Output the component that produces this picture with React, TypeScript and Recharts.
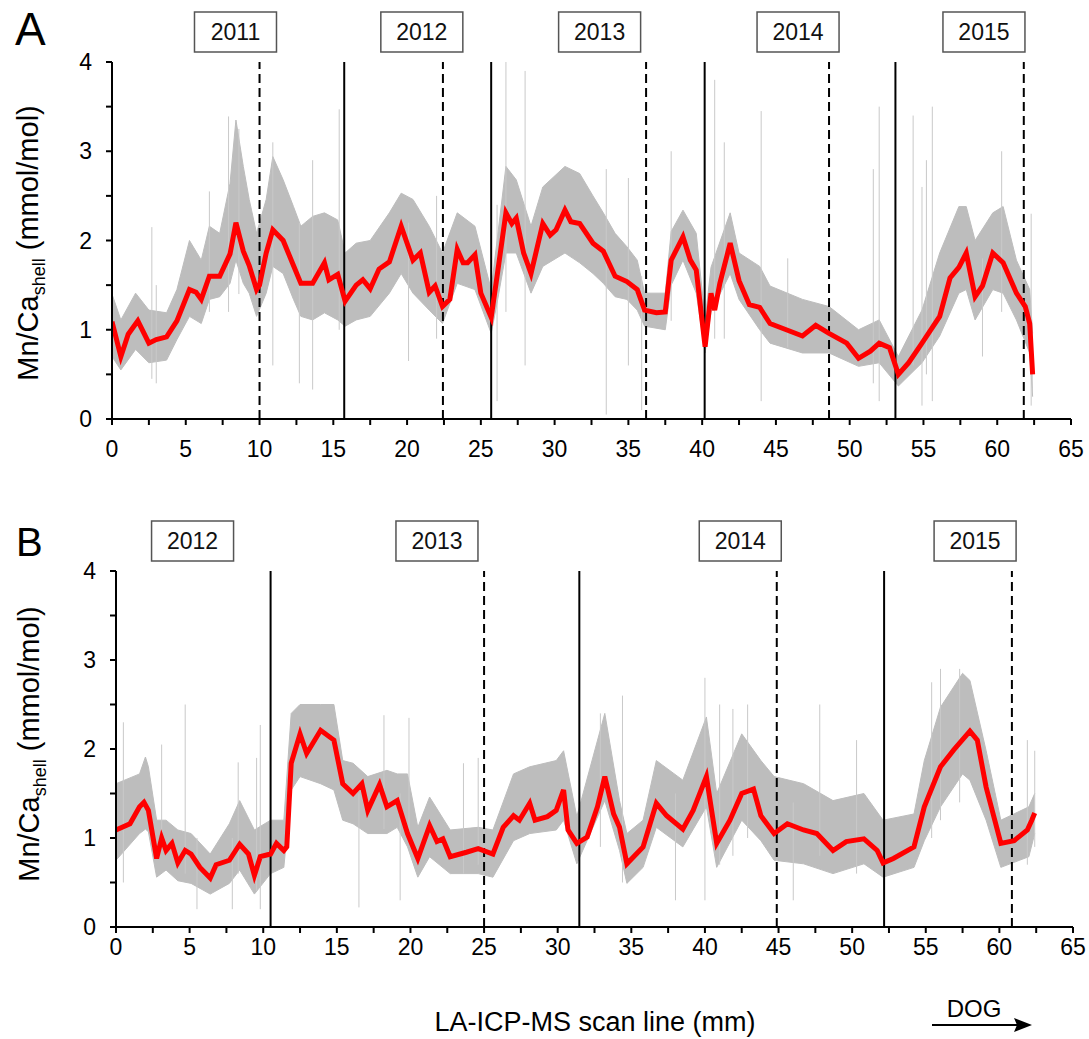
import React from "react";
import {
  Area,
  ComposedChart,
  Line,
  ReferenceDot,
  ReferenceLine,
  XAxis,
  YAxis,
} from "recharts";

const FONT = "'Liberation Sans', Arial, Helvetica, sans-serif";
const RED = "#ff0000";
const GRAY = "#bdbdbd";
const SPIKE = "#c9c9c9";

const X_TICKS = [0, 2.5, 5, 7.5, 10, 12.5, 15, 17.5, 20, 22.5, 25, 27.5, 30, 32.5, 35, 37.5, 40, 42.5, 45, 47.5, 50, 52.5, 55, 57.5, 60, 62.5, 65];
const Y_TICKS = [0, 0.5, 1, 1.5, 2, 2.5, 3, 3.5, 4];

// ---- panel A: smoothed Mn/Ca (red)
const A_RED_X = [0, 0.6, 1.1, 1.75, 2.5, 3.0, 3.7, 4.4, 5.25, 5.7, 6.05, 6.6, 7.3, 8.0, 8.4, 8.9, 9.3, 9.8, 10.0, 10.45, 10.9, 11.6, 12.3, 12.8, 13.6, 14.4, 14.7, 15.3, 15.8, 16.55, 17.0, 17.5, 18.1, 18.8, 19.6, 20.4, 20.9, 21.5, 21.9, 22.4, 22.9, 23.4, 23.8, 24.1, 24.6, 25.0, 25.7, 26.1, 26.7, 27.1, 27.4, 27.9, 28.4, 29.2, 29.7, 30.1, 30.7, 31.1, 31.7, 32.6, 33.3, 34.1, 34.9, 35.6, 36.1, 36.9, 37.5, 37.9, 38.7, 39.2, 39.6, 40.2, 40.6, 40.85, 41.2, 41.9, 42.5, 43.2, 43.9, 44.6, 45.7, 46.8, 47.7, 48.6, 49.8, 50.6, 51.4, 52.0, 52.7, 53.3, 54.0, 54.9, 56.1, 56.8, 57.4, 57.9, 58.5, 59.0, 59.7, 60.4, 61.3, 61.9, 62.2, 62.4];
const A_RED_Y = [1.09, 0.7, 0.95, 1.1, 0.85, 0.89, 0.92, 1.1, 1.45, 1.42, 1.34, 1.6, 1.6, 1.85, 2.2, 1.88, 1.72, 1.45, 1.5, 1.86, 2.12, 2.0, 1.72, 1.52, 1.52, 1.75, 1.56, 1.62, 1.32, 1.5, 1.56, 1.46, 1.68, 1.76, 2.16, 1.78, 1.86, 1.42, 1.49, 1.26, 1.34, 1.9, 1.75, 1.75, 1.84, 1.41, 1.14, 1.6, 2.31, 2.19, 2.25, 1.86, 1.63, 2.19, 2.06, 2.12, 2.34, 2.21, 2.19, 1.97, 1.88, 1.6, 1.54, 1.45, 1.22, 1.19, 1.2, 1.78, 2.04, 1.78, 1.67, 0.81, 1.41, 1.22, 1.52, 1.97, 1.55, 1.28, 1.25, 1.07, 1.0, 0.93, 1.05, 0.96, 0.85, 0.68, 0.76, 0.85, 0.8, 0.5, 0.63, 0.85, 1.15, 1.58, 1.7, 1.86, 1.37, 1.49, 1.86, 1.75, 1.41, 1.26, 1.07, 0.5];

// ---- panel A: raw data envelope (gray)
const A_BAND_X = [0, 0.6, 1.6, 2.5, 3.7, 4.4, 5.25, 6.05, 6.6, 7.3, 8.0, 8.4, 8.9, 9.3, 9.8, 10.45, 10.9, 11.6, 12.3, 12.8, 13.6, 14.4, 15.3, 15.8, 16.55, 17.5, 18.8, 19.6, 20.4, 21.5, 22.4, 23.4, 24.6, 25.7, 26.1, 26.7, 27.4, 28.4, 29.2, 30.7, 31.7, 32.6, 33.3, 34.1, 34.9, 35.6, 36.1, 37.5, 37.9, 38.7, 39.6, 40.2, 40.6, 41.9, 42.5, 43.9, 44.6, 46.8, 48.6, 50.6, 52.0, 53.3, 54.9, 56.1, 57.4, 57.9, 58.5, 59.7, 60.4, 61.3, 62.2, 62.4];
const A_BAND_LO = [0.7, 0.55, 0.78, 0.63, 0.66, 0.89, 1.15, 1.07, 1.34, 1.37, 1.52, 1.78, 1.52, 1.41, 1.15, 1.41, 1.71, 1.63, 1.34, 1.15, 1.11, 1.19, 1.11, 1.04, 1.11, 1.15, 1.41, 1.63, 1.41, 1.22, 1.07, 1.52, 1.45, 0.96, 1.3, 1.86, 1.86, 1.41, 1.71, 1.86, 1.75, 1.63, 1.52, 1.37, 1.34, 1.22, 1.04, 1.0, 1.5, 1.78, 1.41, 0.74, 1.2, 1.63, 1.34, 1.0, 0.85, 0.74, 0.74, 0.59, 0.63, 0.37, 0.63, 0.93, 1.41, 1.45, 1.11, 1.45, 1.41, 1.11, 0.74, 0.25];
const A_BAND_HI = [1.4, 1.11, 1.41, 1.22, 1.19, 1.45, 2.0, 1.78, 2.16, 2.08, 2.64, 3.35, 2.83, 2.46, 2.08, 2.46, 2.94, 2.68, 2.38, 2.16, 2.27, 2.31, 2.23, 1.86, 1.97, 2.0, 2.31, 2.53, 2.46, 2.16, 1.86, 2.31, 2.16, 1.45, 2.0, 2.83, 2.68, 2.16, 2.6, 2.83, 2.75, 2.5, 2.31, 2.08, 1.93, 1.78, 1.41, 1.41, 2.1, 2.34, 2.08, 1.11, 1.7, 2.31, 1.86, 1.71, 1.49, 1.34, 1.26, 1.0, 1.11, 0.7, 1.22, 1.86, 2.38, 2.38, 2.0, 2.31, 2.38, 1.78, 1.45, 0.96];

// ---- panel A: isolated spikes
const A_SPIKE_X = [2.7, 3.0, 6.6, 7.9, 8.6, 10.9, 12.7, 13.6, 15.4, 20.1, 22.0, 26.1, 26.7, 28.0, 33.5, 35.0, 35.9, 37.9, 40.85, 41.5, 44.0, 45.8, 51.6, 52.0, 54.3, 54.9, 55.2, 55.6, 59.0, 60.3, 62.3];
const A_SPIKE_LO = [0.45, 0.4, 1.2, 1.2, 1.4, 0.6, 0.4, 0.33, 1.0, 0.65, 0.9, 0.2, 1.2, 0.6, 0.05, 0.6, 0.1, 1.1, 0.9, 0.9, 0.2, 0.8, 0.4, 0.2, 0.6, 0.15, 0.5, 0.2, 0.7, 1.2, 0.15];
const A_SPIKE_HI = [2.15, 1.5, 2.55, 3.39, 3.25, 3.1, 2.2, 2.9, 3.47, 2.2, 2.5, 2.4, 4.0, 3.9, 2.8, 2.7, 1.6, 3.0, 3.8, 3.1, 3.45, 1.8, 2.8, 3.5, 3.4, 2.6, 2.9, 3.5, 1.8, 3.0, 2.3];

const A_SOLID = [15.74, 25.7, 40.17, 53.1];
const A_DASHED = [10.0, 22.43, 36.2, 48.6, 61.8];
const A_YEARS = ["2011", "2012", "2013", "2014", "2015"];
const A_YEAR_POS = [8.37, 21.0, 33.05, 46.5, 59.1];

// ---- panel B: smoothed Mn/Ca (red)
const B_RED_X = [0, 0.95, 1.6, 1.9, 2.2, 2.76, 3.1, 3.4, 3.8, 4.2, 4.7, 5.1, 5.7, 6.4, 6.8, 7.7, 8.4, 9.0, 9.4, 9.8, 10.5, 10.9, 11.4, 11.6, 11.9, 12.5, 12.95, 13.9, 14.8, 15.4, 16.1, 16.7, 17.1, 17.9, 18.4, 19.1, 19.8, 20.5, 21.3, 21.8, 22.2, 22.7, 23.8, 24.6, 25.6, 26.3, 27.0, 27.4, 28.1, 28.46, 29.3, 29.9, 30.4, 30.7, 31.3, 32.0, 32.7, 33.2, 33.8, 34.2, 34.7, 35.8, 36.7, 37.4, 38.5, 39.2, 40.1, 40.8, 41.7, 42.5, 43.3, 43.8, 44.7, 45.6, 46.7, 47.6, 48.7, 49.6, 50.8, 51.7, 52.1, 52.8, 54.2, 54.9, 56.0, 56.9, 58.0, 58.5, 59.1, 60.1, 61.0, 61.9, 62.2, 62.4];
const B_RED_Y = [1.09, 1.16, 1.35, 1.4, 1.31, 0.77, 1.0, 0.86, 0.94, 0.72, 0.86, 0.82, 0.67, 0.55, 0.7, 0.75, 0.93, 0.82, 0.58, 0.79, 0.82, 0.94, 0.86, 0.9, 1.84, 2.17, 1.95, 2.21, 2.1, 1.61, 1.5, 1.61, 1.31, 1.6, 1.35, 1.42, 1.05, 0.77, 1.14, 0.96, 0.99, 0.79, 0.84, 0.88, 0.82, 1.12, 1.25, 1.2, 1.39, 1.2, 1.24, 1.31, 1.54, 1.09, 0.94, 1.01, 1.35, 1.69, 1.27, 1.12, 0.71, 0.9, 1.39, 1.25, 1.1, 1.31, 1.69, 0.94, 1.2, 1.5, 1.55, 1.25, 1.05, 1.16, 1.09, 1.05, 0.86, 0.96, 0.99, 0.86, 0.72, 0.77, 0.9, 1.35, 1.8, 1.99, 2.2, 2.1, 1.57, 0.94, 0.97, 1.09, 1.2, 1.28];

// ---- panel B: raw data envelope (gray)
const B_BAND_X = [0, 1.6, 2.0, 2.2, 2.76, 3.4, 4.2, 5.1, 6.4, 7.7, 8.4, 9.4, 10.5, 11.4, 11.9, 12.5, 13.9, 14.8, 15.4, 16.1, 17.1, 18.4, 19.1, 19.8, 20.5, 21.3, 22.7, 24.6, 25.6, 27.0, 28.1, 29.9, 30.4, 31.3, 33.2, 34.2, 34.7, 35.8, 36.7, 38.5, 40.1, 40.8, 42.5, 43.8, 44.7, 46.7, 48.7, 50.8, 52.1, 54.2, 54.9, 56.0, 57.5, 58.0, 59.1, 60.1, 62.0, 62.4];
const B_BAND_LO = [0.75, 1.05, 1.1, 1.07, 0.56, 0.64, 0.52, 0.49, 0.37, 0.49, 0.64, 0.37, 0.6, 0.67, 1.54, 1.69, 1.61, 1.54, 1.2, 1.16, 1.05, 1.05, 1.12, 0.9, 0.56, 0.79, 0.6, 0.6, 0.56, 0.97, 1.05, 1.09, 1.2, 0.71, 1.42, 0.86, 0.49, 0.67, 1.12, 0.9, 1.35, 0.67, 1.2, 0.97, 0.75, 0.71, 0.6, 0.71, 0.56, 0.67, 0.97, 1.35, 1.72, 1.65, 1.2, 0.67, 0.79, 1.05];
const B_BAND_HI = [1.61, 1.72, 1.91, 1.8, 1.2, 1.2, 1.09, 1.05, 0.82, 1.16, 1.42, 1.09, 1.2, 1.2, 2.4, 2.5, 2.5, 2.5, 1.87, 1.84, 1.69, 1.76, 1.72, 1.72, 1.12, 1.46, 1.09, 1.12, 1.09, 1.72, 1.8, 1.87, 1.98, 1.24, 2.4, 1.42, 1.05, 1.2, 1.87, 1.65, 2.36, 1.5, 2.17, 1.87, 1.69, 1.61, 1.42, 1.5, 1.2, 1.27, 1.87, 2.47, 2.85, 2.77, 1.98, 1.2, 1.35, 1.5];

// ---- panel B: isolated spikes
const B_SPIKE_X = [0.5, 3.1, 4.7, 5.5, 7.9, 8.3, 9.55, 9.8, 16.5, 18.2, 19.3, 19.9, 23.6, 24.6, 32.9, 34.4, 38.0, 40.0, 41.0, 41.9, 42.9, 46.0, 47.8, 50.3, 55.4, 56.0, 57.3, 61.9, 62.4];
const B_SPIKE_LO = [0.5, 0.9, 0.6, 0.2, 0.2, 0.6, 0.4, 0.2, 0.22, 1.1, 0.3, 1.0, 0.6, 0.7, 0.9, 0.5, 0.3, 0.3, 0.7, 0.8, 1.0, 0.3, 0.8, 0.6, 1.0, 1.2, 1.4, 0.7, 0.9];
const B_SPIKE_HI = [2.3, 2.05, 2.5, 1.0, 1.0, 1.85, 1.9, 2.27, 1.5, 2.38, 1.5, 2.35, 1.84, 1.9, 2.4, 2.6, 1.5, 2.8, 2.5, 2.45, 2.5, 1.4, 2.5, 2.1, 2.75, 2.9, 2.9, 2.1, 1.98];

const B_SOLID = [10.5, 31.47, 52.17];
const B_DASHED = [25.0, 44.88, 60.85];
const B_YEARS = ["2012", "2013", "2014", "2015"];
const B_YEAR_POS = [5.2, 21.8, 42.4, 58.35];

const tick = { fontSize: 23, fill: "#000", fontFamily: FONT };

function YearBox({ cx, cy, label }: { cx: number; cy: number; label: string }) {
  return (
    <g>
      <rect x={cx - 41} y={cy - 50} width={82} height={40} fill="#fff" stroke="#555" strokeWidth={1.5} />
      <text x={cx} y={cy - 22} textAnchor="middle" fontSize={23} fontFamily={FONT} fill="#111">
        {label}
      </text>
    </g>
  );
}

type PanelProps = {
  top: number;
  height: number;
  axisW: number;
  right: number;
  xTickMargin: number;
  redX: number[];
  redY: number[];
  bandX: number[];
  bandLo: number[];
  bandHi: number[];
  spikeX: number[];
  spikeLo: number[];
  spikeHi: number[];
  solid: number[];
  dashed: number[];
  years: string[];
  yearPos: number[];
};

function Panel(p: PanelProps) {
  const red = p.redX.map((x, i) => ({ x, y: p.redY[i] }));
  const band = p.bandX.map((x, i) => ({ x, range: [p.bandLo[i], p.bandHi[i]] }));
  return (
    <div style={{ position: "absolute", left: 0, top: p.top }}>
      <ComposedChart width={1089} height={p.height} margin={{ top: 62, right: p.right, left: 0, bottom: 14 }}>
        <XAxis
          type="number"
          dataKey="x"
          domain={[0, 65]}
          ticks={X_TICKS}
          interval={0}
          tickFormatter={(v: number) => (v % 5 === 0 ? String(v) : "")}
          tick={tick}
          tickSize={6}
          tickMargin={p.xTickMargin}
          stroke="#000"
          strokeWidth={2}
          height={40}
          allowDataOverflow
        />
        <YAxis
          type="number"
          domain={[0, 4]}
          ticks={Y_TICKS}
          interval={0}
          tickFormatter={(v: number) => (Number.isInteger(v) ? String(v) : "")}
          tick={tick}
          tickSize={6}
          tickMargin={14}
          stroke="#000"
          strokeWidth={2}
          width={p.axisW}
          allowDataOverflow
        />
        {p.solid.map((x) => (
          <ReferenceLine key={"s" + x} x={x} stroke="#000" strokeWidth={2} />
        ))}
        {p.dashed.map((x) => (
          <ReferenceLine key={"d" + x} x={x} stroke="#000" strokeWidth={2} strokeDasharray="9 5" />
        ))}
        {p.spikeX.map((x, i) => (
          <ReferenceLine
            key={"k" + i}
            segment={[
              { x, y: p.spikeLo[i] },
              { x, y: p.spikeHi[i] },
            ]}
            stroke={SPIKE}
            strokeWidth={1}
          />
        ))}
        <Area
          data={band}
          dataKey="range"
          type="linear"
          stroke={GRAY}
          strokeWidth={1}
          fill={GRAY}
          fillOpacity={1}
          isAnimationActive={false}
        />
        <Line
          data={red}
          dataKey="y"
          type="linear"
          stroke={RED}
          strokeWidth={5}
          dot={false}
          isAnimationActive={false}
        />
        {p.years.map((label, i) => (
          <ReferenceDot
            key={label}
            x={p.yearPos[i]}
            y={4}
            r={0}
            ifOverflow="visible"
            shape={(s: any) => <YearBox cx={s.cx} cy={s.cy} label={label} />}
          />
        ))}
      </ComposedChart>
    </div>
  );
}

export default function App() {
  return (
    <div style={{ position: "absolute", left: 0, top: 0, width: 1089, height: 1039, background: "#fff", fontFamily: FONT }}>
      <Panel
        top={0}
        height={473}
        axisW={112}
        right={18}
        xTickMargin={16}
        redX={A_RED_X}
        redY={A_RED_Y}
        bandX={A_BAND_X}
        bandLo={A_BAND_LO}
        bandHi={A_BAND_HI}
        spikeX={A_SPIKE_X}
        spikeLo={A_SPIKE_LO}
        spikeHi={A_SPIKE_HI}
        solid={A_SOLID}
        dashed={A_DASHED}
        years={A_YEARS}
        yearPos={A_YEAR_POS}
      />
      <Panel
        top={509}
        height={472}
        axisW={116}
        right={16}
        xTickMargin={6}
        redX={B_RED_X}
        redY={B_RED_Y}
        bandX={B_BAND_X}
        bandLo={B_BAND_LO}
        bandHi={B_BAND_HI}
        spikeX={B_SPIKE_X}
        spikeLo={B_SPIKE_LO}
        spikeHi={B_SPIKE_HI}
        solid={B_SOLID}
        dashed={B_DASHED}
        years={B_YEARS}
        yearPos={B_YEAR_POS}
      />
      <svg width={1089} height={1039} style={{ position: "absolute", left: 0, top: 0, pointerEvents: "none" }} fontFamily={FONT}>
        <text x={15} y={45} fontSize={46} fill="#000">A</text>
        <text x={16} y={556} fontSize={40} fill="#000">B</text>
        <text transform="translate(38,243) rotate(-90)" textAnchor="middle" fontSize={29} fill="#000">
          Mn/Ca<tspan fontSize={18} dy={7}>shell</tspan>
          <tspan dy={-7}> (mmol/mol)</tspan>
        </text>
        <text transform="translate(39,744) rotate(-90)" textAnchor="middle" fontSize={29} fill="#000">
          Mn/Ca<tspan fontSize={18} dy={7}>shell</tspan>
          <tspan dy={-7}> (mmol/mol)</tspan>
        </text>
        <text x={595} y={1031} textAnchor="middle" fontSize={27} fill="#000">LA-ICP-MS scan line (mm)</text>
        <text x={974} y={1017} textAnchor="middle" fontSize={24} fill="#000">DOG</text>
        <line x1={932} y1={1025} x2={1018} y2={1025} stroke="#000" strokeWidth={2} />
        <polygon points="1032,1025 1014,1018 1017,1025 1014,1032" fill="#000" />
      </svg>
    </div>
  );
}
